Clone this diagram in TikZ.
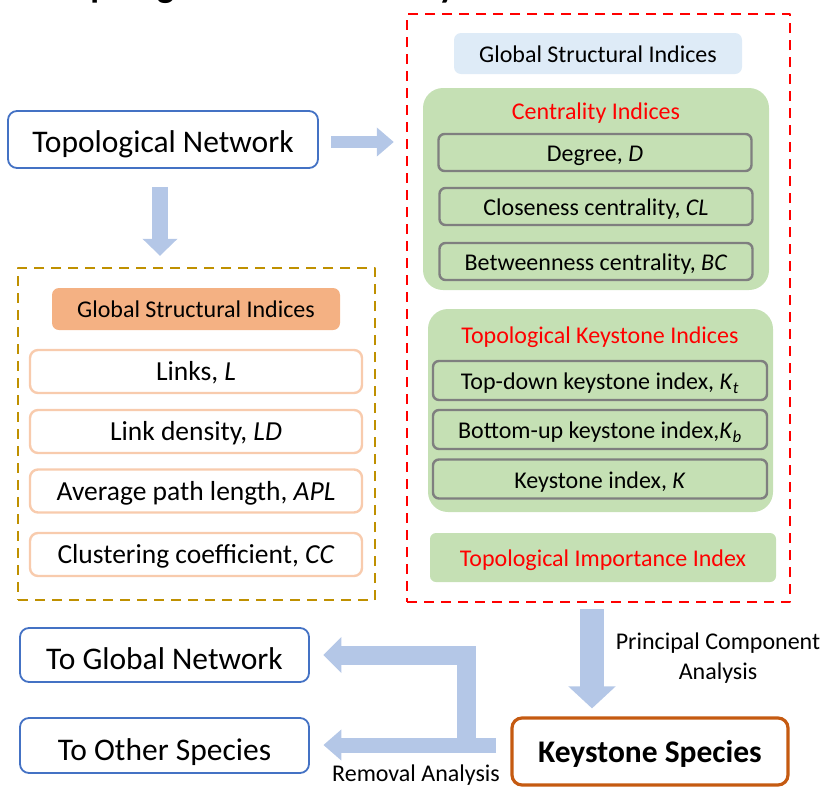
\documentclass[tikz,border=0pt]{standalone}
\usepackage{fontspec}
\setmainfont{Carlito}
\usetikzlibrary{arrows.meta}

\definecolor{netblue}{HTML}{4472C4}
\definecolor{flowblue}{HTML}{B4C7E7}
\definecolor{paleblue}{HTML}{DEEBF7}
\definecolor{leaf}{HTML}{C5E0B4}
\definecolor{peach}{HTML}{F4B183}
\definecolor{peachline}{HTML}{F8CBAD}
\definecolor{rust}{HTML}{C55A11}
\definecolor{gold}{HTML}{BF9000}
\definecolor{slate}{HTML}{7F7F7F}

\newcommand{\fsz}[1]{\fontsize{#1}{#1}\selectfont}

\begin{document}
\begin{tikzpicture}[x=1pt,y=-1pt,line join=round,
  capmid/.style={text height=#1,text depth=0pt},
  plain/.style={inner sep=0pt,minimum width=#1},
  netbox/.style={plain=#1,draw=netblue,line width=1.8pt,rounded corners=9pt,fill=white,minimum height=55pt,font=\fsz{31.5},capmid=26pt},
  frame/.style={plain=#1,dashed,line width=2.4pt,dash pattern=on 10pt off 7pt},
  header/.style={plain=288pt,minimum height=41pt,rounded corners=7pt,font=\fsz{24},capmid=17pt},
  group/.style={plain=#1,fill=leaf,rounded corners=20pt},
  gitem/.style={plain=#1,draw=slate,line width=2.4pt,fill=leaf,rounded corners=6pt,minimum height=37pt,font=\fsz{24},capmid=18pt},
  oitem/.style={plain=332pt,draw=peachline,line width=2.4pt,fill=white,rounded corners=8pt,minimum height=43pt,font=\fsz{27.5},capmid=18.5pt},
  flow/.style={draw=flowblue,line width=#1,line cap=butt}]

\useasboundingbox (0,0) rectangle (823,788);

\begin{scope}
  \clip (0,0) rectangle (823,788);
  \node[anchor=base west,inner sep=0pt,font=\fsz{36}\bfseries] (title) at (56,-2.5) {Topological Network Analysis};
\end{scope}

\node[netbox=310pt,minimum height=57pt] (topnet) at (163,139.5) {Topological Network};

% right column
\node[frame=383pt,draw=red,minimum height=588pt] (redframe) at (598.5,308) {};
\node[header,fill=paleblue] (gsiblue) at (598,53.5) {Global Structural Indices};

\node[group=346pt,minimum height=202pt] (cent) at (596,189) {};
\node[capmid=16pt,text=red,font=\fsz{24}] (centlbl) at (596,111) {Centrality Indices};
\node[gitem=313pt] (deg) at (595,152.5) {Degree, \textit{D}};
\node[gitem=313pt] (clo) at (596,206.5) {Closeness centrality, \textit{CL}};
\node[gitem=313pt] (bet) at (596,261.5) {Betweenness centrality, \textit{BC}};

\node[group=345pt,minimum height=203pt] (keyg) at (600.5,410.5) {};
\node[capmid=16pt,text=red,font=\fsz{24}] (keylbl) at (600,335) {Topological Keystone Indices};
\node[gitem=334pt,minimum height=39pt] (kt) at (600,380.5) {Top-down keystone index, \textit{K}\textsubscript{\textit{t}}};
\node[gitem=334pt,minimum height=39pt] (kb) at (600,429.5) {Bottom-up keystone index,\textit{K}\textsubscript{\textit{b}}};
\node[gitem=334pt,minimum height=39pt] (kk) at (600,479) {Keystone index, \textit{K}};

\node[plain=346pt,minimum height=49pt,fill=leaf,rounded corners=6pt,text=red,font=\fsz{24},capmid=17pt] (tii) at (603,557.5) {Topological Importance Index};

% left column
\node[frame=357pt,draw=gold,minimum height=332pt] (goldframe) at (196.5,434) {};
\node[header,fill=peach,minimum height=42pt] (gsiorange) at (196,309) {Global Structural Indices};
\node[oitem] (links) at (196,371.5) {Links, \textit{L}};
\node[oitem] (ld) at (196,431.5) {Link density, \textit{LD}};
\node[oitem] (apl) at (196,491) {Average path length, \textit{APL}};
\node[oitem] (cc) at (196,554.5) {Clustering coefficient, \textit{CC}};

% bottom row
\node[netbox=289pt,minimum height=54pt,capmid=28pt] (tgn) at (164.5,655) {To Global Network};
\node[netbox=289pt,capmid=30pt] (tos) at (164.5,745.5) {To Other Species};
\node[plain=276pt,minimum height=67pt,draw=rust,line width=3.2pt,rounded corners=10pt,font=\fsz{31.5}\bfseries,capmid=21pt] (ks) at (650,751.5) {Keystone Species};

\node[align=center,font=\fontsize{24}{29.5}\selectfont] (pcalbl) at (718,658) {Principal Component\\Analysis};
\node[capmid=16pt,font=\fsz{24}] (rmlbl) at (416,773.5) {Removal Analysis};

% arrows
\draw[flow=12pt,-{Triangle[width=28pt,length=17pt]},shorten <=12pt,shorten >=12pt] ([yshift=-2.5pt]topnet.east) -- ([yshift=-2.5pt]topnet.east -| redframe.west);
\draw[flow=16pt,-{Triangle[width=34pt,length=17pt]},shorten <=18pt,shorten >=11pt] ([xshift=-3pt]topnet.south) -- ([xshift=-3pt]topnet.south |- goldframe.north);

\coordinate (pca) at (592,609);
\draw[flow=24pt,-{Triangle[width=46pt,length=22pt]},shorten >=8pt] (pca) -- (pca |- ks.north);

\coordinate (rm) at (496,745);
\coordinate (split) at (466,752);
\draw[flow=15pt,-{Triangle[width=30pt,length=18pt]},shorten >=13.5pt] (rm) -- (rm -| tos.east);
\draw[flow=19pt,line join=miter,-{Triangle[width=35pt,length=18pt]},shorten >=13.5pt] (split) -- (split |- tgn.east) -- (tgn.east);

\end{tikzpicture}
\end{document}
